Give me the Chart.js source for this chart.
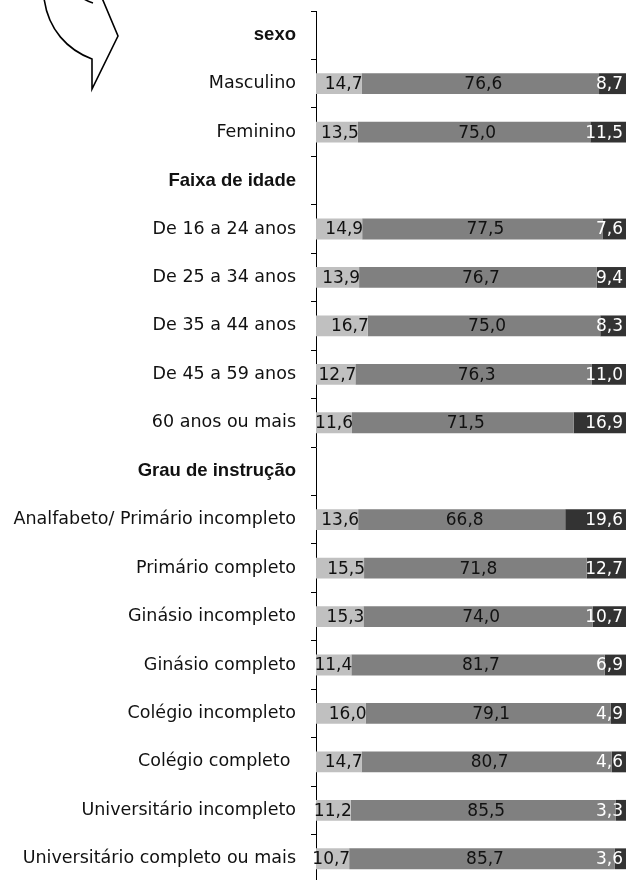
<!DOCTYPE html>
<html>
<head>
<meta charset="utf-8">
<script src="https://cdn.jsdelivr.net/npm/chart.js@4/dist/chart.umd.min.js"></script>
<style>
  html, body { margin: 0; padding: 0; background: #fff; overflow: hidden; }
  #wrap { position: relative; width: 627px; height: 884px; }
</style>
</head>
<body>
<div id="wrap"><canvas id="chart" width="627" height="884"></canvas></div>
<script>
  const categories = [
    'sexo', 'Masculino', 'Feminino',
    'Faixa de idade', 'De 16 a 24 anos', 'De 25 a 34 anos', 'De 35 a 44 anos', 'De 45 a 59 anos', '60 anos ou mais',
    'Grau de instrução', 'Analfabeto/ Primário incompleto', 'Primário completo', 'Ginásio incompleto',
    'Ginásio completo', 'Colégio incompleto', 'Colégio completo ', 'Universitário incompleto',
    'Universitário completo ou mais'
  ];
  const headers = ['sexo', 'Faixa de idade', 'Grau de instrução'];

  const serieA = [null, 14.7, 13.5, null, 14.9, 13.9, 16.7, 12.7, 11.6, null, 13.6, 15.5, 15.3, 11.4, 16.0, 14.7, 11.2, 10.7];
  const serieB = [null, 76.6, 75.0, null, 77.5, 76.7, 75.0, 76.3, 71.5, null, 66.8, 71.8, 74.0, 81.7, 79.1, 80.7, 85.5, 85.7];
  const serieC = [null, 8.7, 11.5, null, 7.6, 9.4, 8.3, 11.0, 16.9, null, 19.6, 12.7, 10.7, 6.9, 4.9, 4.6, 3.3, 3.6];

  const fmt = v => v.toFixed(1).replace('.', ',');

  // labels inside the segments
  const valueLabels = {
    id: 'valueLabels',
    afterDatasetsDraw(chart) {
      const ctx = chart.ctx;
      ctx.save();
      ctx.font = '17px "DejaVu Sans"';
      ctx.textBaseline = 'middle';
      chart.data.datasets.forEach((ds, di) => {
        const meta = chart.getDatasetMeta(di);
        meta.data.forEach((bar, i) => {
          const v = ds.data[i];
          if (v == null) return;
          const y = bar.y + 1;
          if (di === 0) {
            ctx.fillStyle = '#111';
            ctx.textAlign = 'right';
            ctx.fillText(fmt(v), bar.x + 1, y);
          } else if (di === 1) {
            ctx.fillStyle = '#111';
            ctx.textAlign = 'center';
            ctx.fillText(fmt(v), (bar.x + bar.base) / 2 + 3, y);
          } else {
            ctx.fillStyle = '#fff';
            ctx.textAlign = 'right';
            ctx.fillText(fmt(v), bar.x - 3, y);
          }
        });
      });
      ctx.restore();
    }
  };

  // curved arrow outline, top left corner
  const arrowDeco = {
    id: 'arrowDeco',
    afterDraw(chart) {
      const ctx = chart.ctx;
      ctx.save();
      ctx.strokeStyle = '#000';
      ctx.lineWidth = 1.6;
      ctx.lineJoin = 'miter';
      ctx.beginPath();
      ctx.moveTo(44, -2);
      ctx.bezierCurveTo(48, 30, 68, 50, 92, 59);
      ctx.lineTo(92, 89);
      ctx.lineTo(118, 36);
      ctx.lineTo(102, -2);
      ctx.stroke();
      ctx.beginPath();
      ctx.moveTo(84, -1);
      ctx.quadraticCurveTo(89, 2, 93, 3);
      ctx.stroke();
      ctx.restore();
    }
  };

  new Chart(document.getElementById('chart'), {
    type: 'bar',
    data: {
      labels: categories,
      datasets: [
        { label: 'A', data: serieA, backgroundColor: '#c0c0c0' },
        { label: 'B', data: serieB, backgroundColor: '#808080' },
        { label: 'C', data: serieC, backgroundColor: '#333333' }
      ]
    },
    options: {
      indexAxis: 'y',
      responsive: false,
      animation: false,
      layout: { padding: { top: 11, bottom: 1, left: 0, right: 1 } },
      datasets: { bar: { barPercentage: 0.43, categoryPercentage: 1 } },
      plugins: { legend: { display: false }, tooltip: { enabled: false } },
      scales: {
        x: { stacked: true, min: 0, max: 100, display: false },
        y: {
          stacked: true,
          grid: { offset: true, drawOnChartArea: false, drawTicks: true, tickLength: 5, color: '#000' },
          border: { display: true, color: '#000', width: 1 },
          afterFit(scale) {
            scale.width = 316;
            scale.paddingTop = 0;
            scale.paddingBottom = 0;
          },
          ticks: {
            padding: 15,
            color: '#111',
            autoSkip: false,
            font: (c) => headers.includes(categories[c.index])
              ? { family: '"Liberation Sans"', size: 18.5, weight: 'bold' }
              : { family: '"DejaVu Sans"', size: 17.5, weight: 'normal' }
          }
        }
      }
    },
    plugins: [valueLabels, arrowDeco]
  });
</script>
</body>
</html>
